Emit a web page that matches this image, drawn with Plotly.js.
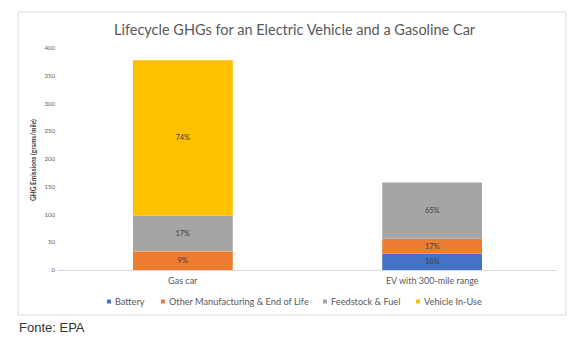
<!DOCTYPE html>
<html>
<head>
<meta charset="utf-8">
<script src="https://cdn.plot.ly/plotly-3.0.1.min.js"></script>
<style>html,body{margin:0;padding:0;background:#fff;}#chart{width:579px;height:353px;}</style>
</head>
<body>
<div id="chart"></div>
<script>
const categories = ["Gas car", "EV with 300-mile range"];
const seriesNames = ["Battery", "Other Manufacturing & End of Life", "Feedstock & Fuel", "Vehicle In-Use"];
const battery = [0, 29];
const otherMfg = [34, 27];
const feedstock = [64, 102];
const vehicleInUse = [280, 0];
const batteryLabels = ["", "18%"];
const otherMfgLabels = ["9%", "17%"];
const feedstockLabels = ["17%", "65%"];
const vehicleInUseLabels = ["74%", ""];
const yTicks = [0, 50, 100, 150, 200, 250, 300, 350, 400];
const colors = ["#4472C4", "#ED7D31", "#A5A5A5", "#FFC000"];

const values = [battery, otherMfg, feedstock, vehicleInUse];
const labels = [batteryLabels, otherMfgLabels, feedstockLabels, vehicleInUseLabels];

const traces = values.map((v, i) => ({
  type: "bar", x: categories, y: v, name: seriesNames[i],
  marker: {color: colors[i], line: {width: 0.6, color: "rgba(255,255,255,0.35)"}},
  text: labels[i], textposition: "inside", insidetextanchor: "middle",
  textfont: {family: "Lato, 'Open Sans', sans-serif", size: 7.5, color: "#404040"},
  showlegend: false, hoverinfo: "skip", constraintext: "none"
}));

const W = 499, H = 222, L = 58, B0 = 270;
const px = x => (x - L) / W;
const py = y => (B0 - y) / H;

// legend layout (pixel positions of the square markers)
const legendX = [107, 161, 323, 416];
const legendY = 301.5;

const shapes = [{
  type: "rect", xref: "paper", yref: "paper",
  x0: px(18), x1: px(566), y0: py(315), y1: py(12),
  line: {color: "#D9D9D9", width: 1}, fillcolor: "rgba(0,0,0,0)", layer: "below"
}];
const annotations = [
  {text: "Lifecycle GHGs for an Electric Vehicle and a Gasoline Car", xref: "paper", yref: "paper",
   x: px(295), y: py(29.5), xanchor: "center", yanchor: "middle", showarrow: false,
   font: {size: 14.5, color: "#595959", family: "Lato, 'Open Sans', sans-serif"}},
  {text: "<b>GHG Emissions (grams/mile)</b>", xref: "paper", yref: "paper",
   x: px(33), y: py(160), xanchor: "center", yanchor: "middle", textangle: -90, showarrow: false,
   font: {size: 6.5, color: "#404040"}},
  {text: "Fonte: EPA", xref: "paper", yref: "paper",
   x: px(17), y: py(327), xanchor: "left", yanchor: "middle", showarrow: false,
   font: {size: 13, color: "#333333", family: "'Liberation Sans', Arial, sans-serif"}}
];
seriesNames.forEach((n, i) => {
  shapes.push({
    type: "rect", xref: "paper", yref: "paper",
    x0: px(legendX[i]), x1: px(legendX[i] + 4), y0: py(legendY + 2), y1: py(legendY - 2),
    line: {width: 0}, fillcolor: colors[i]
  });
  annotations.push({
    text: n, xref: "paper", yref: "paper", x: px(legendX[i] + 5.5), y: py(legendY),
    xanchor: "left", yanchor: "middle", showarrow: false,
    font: {size: 9.2, color: "#595959"}
  });
});

const layout = {
  width: 579, height: 353,
  margin: {l: 58, r: 22, t: 48, b: 83},
  paper_bgcolor: "#ffffff", plot_bgcolor: "#ffffff",
  barmode: "stack", bargap: 0.6,
  font: {family: "Lato, 'Open Sans', sans-serif", color: "#595959"},
  xaxis: {
    type: "category", showgrid: false, zeroline: false,
    showline: true, linecolor: "#D9D9D9", linewidth: 1,
    tickfont: {size: 9, color: "#595959"}, ticks: "", ticklabelstandoff: 2
  },
  yaxis: {
    range: [0, 400], tickvals: yTicks, showgrid: false, zeroline: false,
    showline: false, tickfont: {size: 6, color: "#595959"}, ticks: "",
    ticklabelstandoff: 2
  },
  showlegend: false,
  shapes: shapes,
  annotations: annotations
};

Plotly.newPlot("chart", traces, layout, {staticPlot: true, displayModeBar: false});
</script>
</body>
</html>
